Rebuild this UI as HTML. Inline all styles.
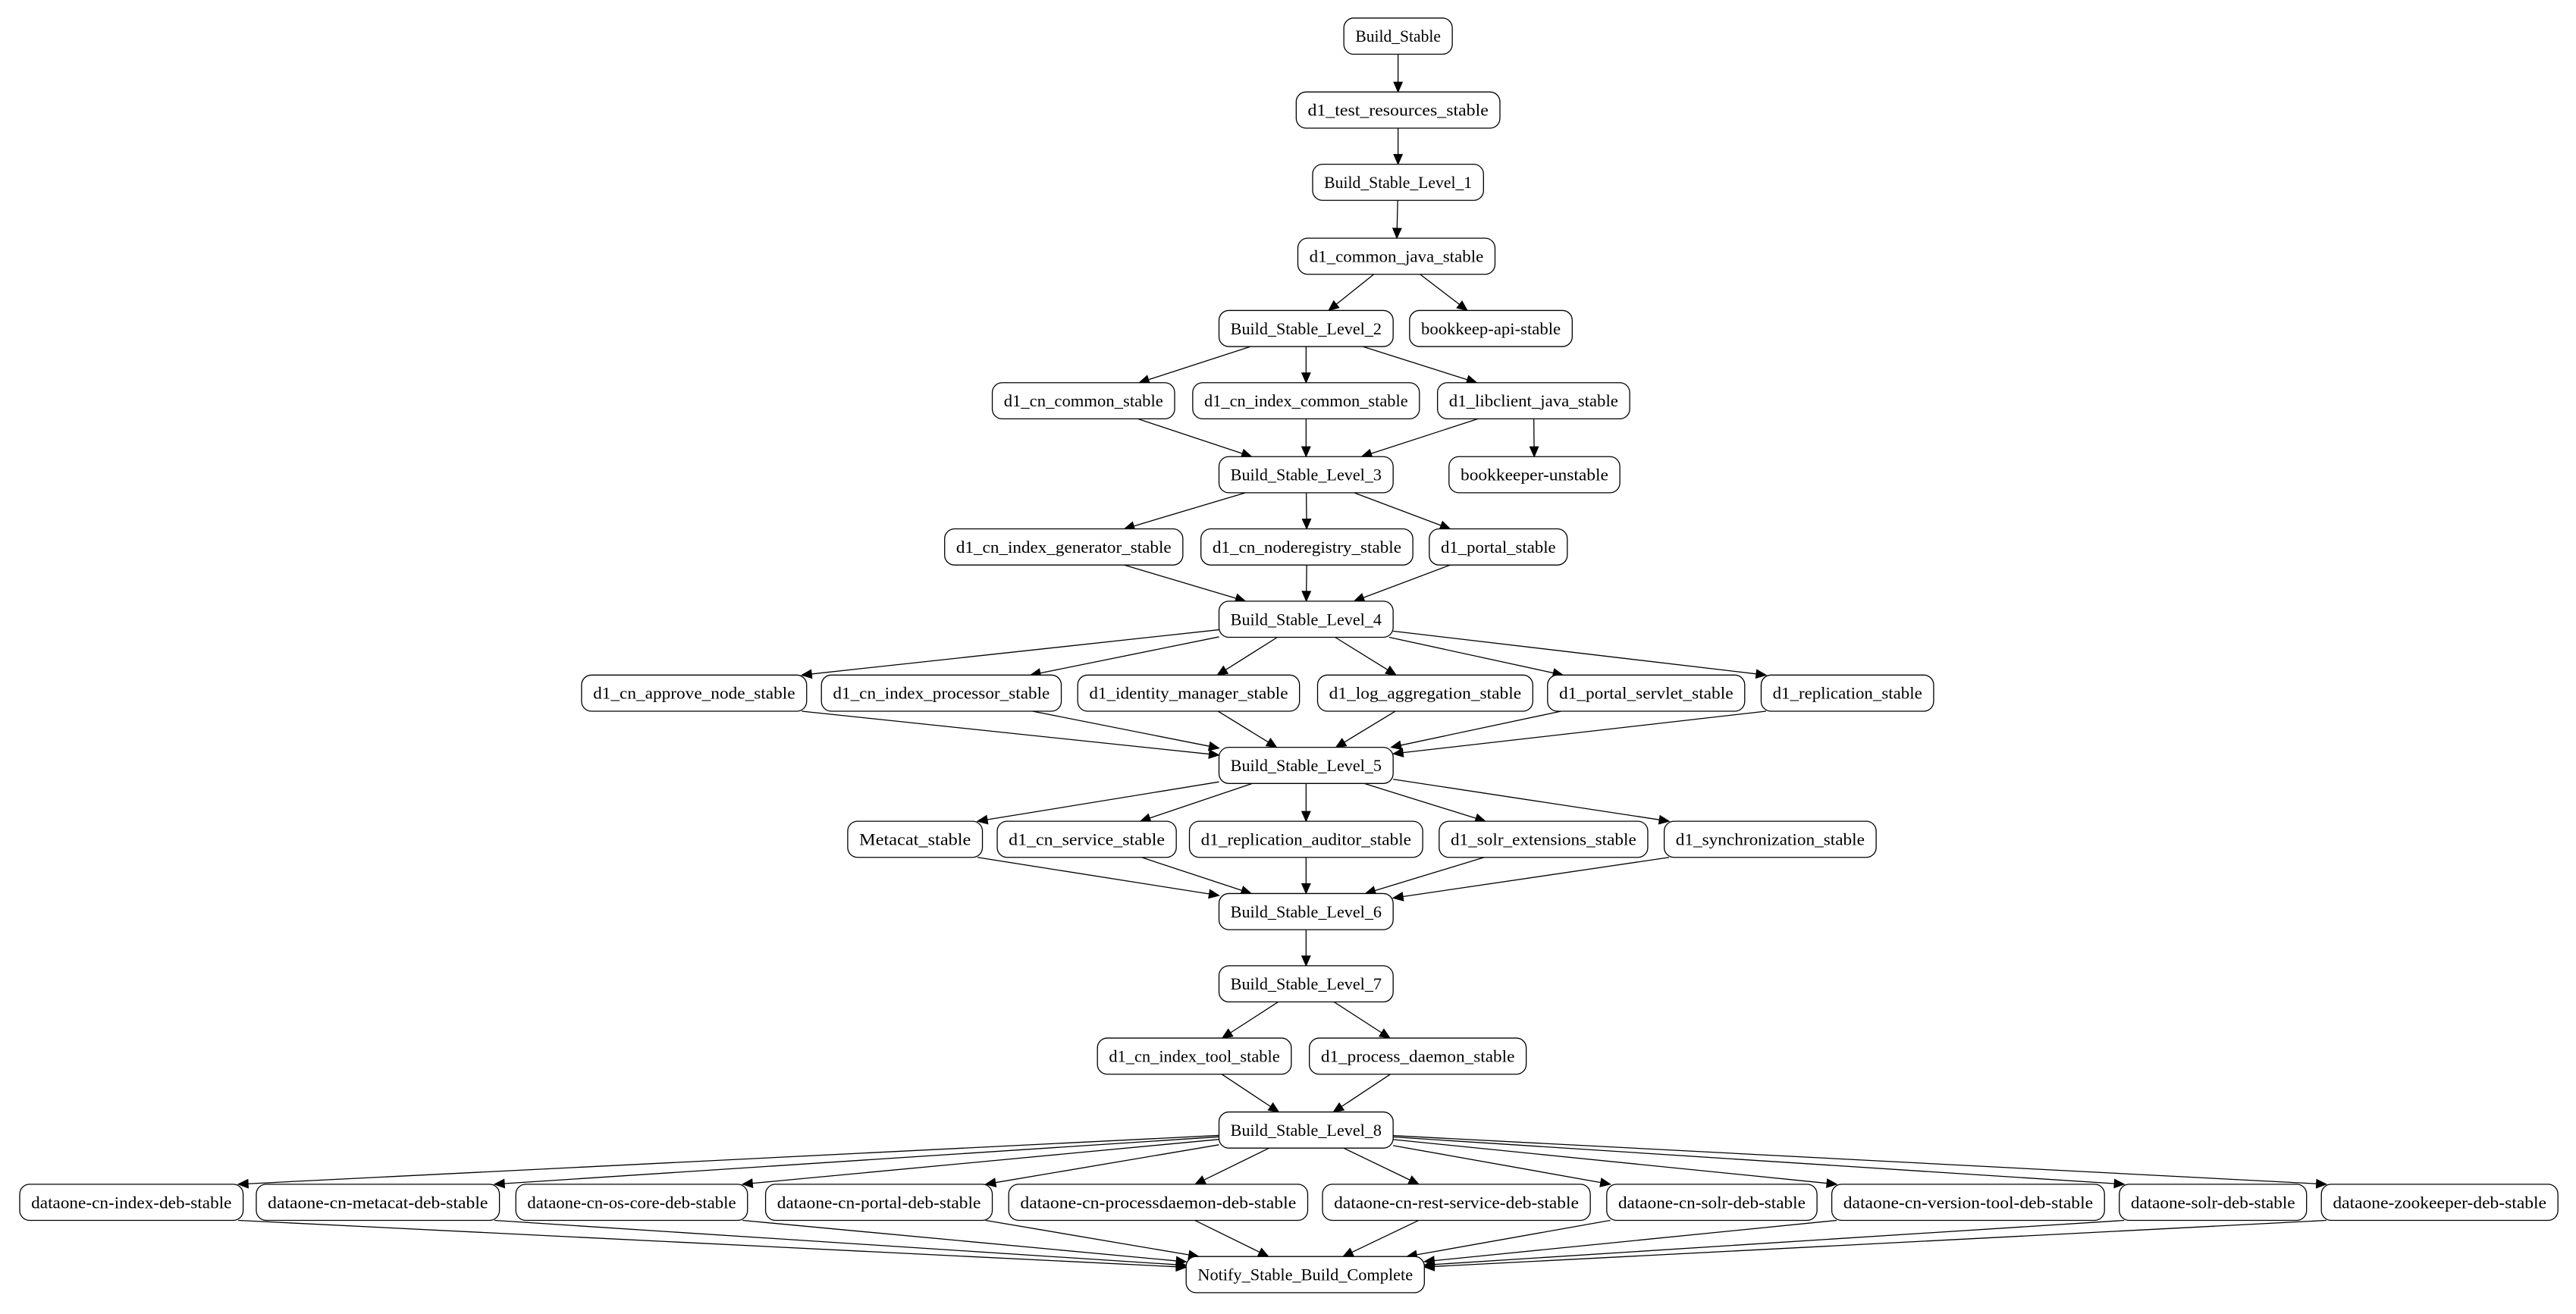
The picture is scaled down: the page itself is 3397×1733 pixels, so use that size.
<!DOCTYPE html>
<html><head><meta charset="utf-8"><style>
html,body{margin:0;padding:0;background:#fff;}
svg{display:block;}
text{font-family:"Liberation Serif","DejaVu Serif",serif;}
</style></head><body>
<svg id="g" width="3397" height="1733" viewBox="0 0 1568 800" preserveAspectRatio="none" xmlns="http://www.w3.org/2000/svg"></svg>
<script>
var N={};
function n(id,x1,x2,y){N[id]={x1:x1,x2:x2,y:y,cx:(x1+x2)/2};}
n('Build_Stable',818,884,22);
n('d1_test_resources_stable',789,913,67);
n('Build_Stable_Level_1',799,903,111);
n('d1_common_java_stable',790,910,156);
n('Build_Stable_Level_2',742,848,200);n('bookkeep-api-stable',858,957,200);
n('d1_cn_common_stable',604,715,244);n('d1_cn_index_common_stable',726,864,244);n('d1_libclient_java_stable',875,992,244);
n('Build_Stable_Level_3',742,848,289);n('bookkeeper-unstable',882,986,289);
n('d1_cn_index_generator_stable',575,720,333);n('d1_cn_noderegistry_stable',731,860,333);n('d1_portal_stable',870,954,333);
n('Build_Stable_Level_4',742,848,377);
n('d1_cn_approve_node_stable',354,491,422);n('d1_cn_index_processor_stable',500,646,422);n('d1_identity_manager_stable',656,791,422);n('d1_log_aggregation_stable',802,933,422);n('d1_portal_servlet_stable',942,1062,422);n('d1_replication_stable',1072,1177,422);
n('Build_Stable_Level_5',742,848,466);
n('Metacat_stable',516,598,511);n('d1_cn_service_stable',607,716,511);n('d1_replication_auditor_stable',724,866,511);n('d1_solr_extensions_stable',876,1003,511);n('d1_synchronization_stable',1013,1142,511);
n('Build_Stable_Level_6',742,848,555);
n('Build_Stable_Level_7',742,848,599);
n('d1_cn_index_tool_stable',668,786,643);n('d1_process_daemon_stable',797,929,643);
n('Build_Stable_Level_8',742,848,688);
var debs=[['dataone-cn-index-deb-stable',12,148],['dataone-cn-metacat-deb-stable',156,304],['dataone-cn-os-core-deb-stable',314,455],['dataone-cn-portal-deb-stable',466,604],['dataone-cn-processdaemon-deb-stable',614,796],['dataone-cn-rest-service-deb-stable',805,968],['dataone-cn-solr-deb-stable',978,1106],['dataone-cn-version-tool-deb-stable',1115,1281],['dataone-solr-deb-stable',1290,1404],['dataone-zookeeper-deb-stable',1413,1557]];
debs.forEach(function(d){n(d[0],d[1],d[2],732);});
n('Notify_Stable_Build_Complete',722,867,776);
var E=[];
function e(a,b){E.push([a,b]);}
e('Build_Stable','d1_test_resources_stable');e('d1_test_resources_stable','Build_Stable_Level_1');
e('Build_Stable_Level_1','d1_common_java_stable');e('d1_common_java_stable','Build_Stable_Level_2');e('d1_common_java_stable','bookkeep-api-stable');
['d1_cn_common_stable','d1_cn_index_common_stable','d1_libclient_java_stable'].forEach(function(k){e('Build_Stable_Level_2',k);e(k,'Build_Stable_Level_3');});
e('d1_libclient_java_stable','bookkeeper-unstable');
['d1_cn_index_generator_stable','d1_cn_noderegistry_stable','d1_portal_stable'].forEach(function(k){e('Build_Stable_Level_3',k);e(k,'Build_Stable_Level_4');});
['d1_cn_approve_node_stable','d1_cn_index_processor_stable','d1_identity_manager_stable','d1_log_aggregation_stable','d1_portal_servlet_stable','d1_replication_stable'].forEach(function(k){e('Build_Stable_Level_4',k);e(k,'Build_Stable_Level_5');});
['Metacat_stable','d1_cn_service_stable','d1_replication_auditor_stable','d1_solr_extensions_stable','d1_synchronization_stable'].forEach(function(k){e('Build_Stable_Level_5',k);e(k,'Build_Stable_Level_6');});
e('Build_Stable_Level_6','Build_Stable_Level_7');
['d1_cn_index_tool_stable','d1_process_daemon_stable'].forEach(function(k){e('Build_Stable_Level_7',k);e(k,'Build_Stable_Level_8');});
debs.forEach(function(d){e('Build_Stable_Level_8',d[0]);e(d[0],'Notify_Stable_Build_Complete');});
var H=11;
function hub(k){return k.indexOf('Build_Stable_Level')===0||k.indexOf('Notify')===0;}
function clip(k,px,py){
  var nd=N[k],sx=nd.cx,sy=nd.y;
  var dx=px-sx,dy=py-sy,hw=(nd.x2-nd.x1)/2;
  var tx=dx!==0?hw/Math.abs(dx):1e9, ty=dy!==0?H/Math.abs(dy):1e9;
  if(ty<=tx) return [sx+dx*ty,sy+dy*ty];
  if(hub(k)) return [sx+dx*tx,sy+dy*tx];
  // snap to top/bottom corner
  var x=dx>0?nd.x2-3:nd.x1+3;
  return [x,sy+(dy>0?H:-H)];
}
var s='';
E.forEach(function(p){
  var a=N[p[0]],b=N[p[1]];
  var p1=clip(p[0],b.cx,b.y),p2=clip(p[1],a.cx,a.y);
  var dx=p2[0]-p1[0],dy=p2[1]-p1[1],L=Math.sqrt(dx*dx+dy*dy),ux=dx/L,uy=dy/L;
  var al=6,aw=2.6;
  var bx=p2[0]-ux*al,by=p2[1]-uy*al;
  s+='<line x1="'+p1[0]+'" y1="'+p1[1]+'" x2="'+bx+'" y2="'+by+'" stroke="#000" stroke-width="0.6"/>';
  s+='<polygon points="'+p2[0]+','+p2[1]+' '+(bx-uy*aw)+','+(by+ux*aw)+' '+(bx+uy*aw)+','+(by-ux*aw)+'" fill="#000" stroke="#000" stroke-width="0.5"/>';
});
for(var k in N){var d=N[k];
  s+='<rect x="'+d.x1+'" y="'+(d.y-H)+'" width="'+(d.x2-d.x1)+'" height="'+(2*H)+'" rx="6" ry="6" fill="#fff" stroke="#000" stroke-width="0.6"/>';
  s+='<text x="'+d.cx+'" y="'+(d.y+3.5)+'" font-size="10" text-anchor="middle" textLength="'+(d.x2-d.x1-14)+'" lengthAdjust="spacingAndGlyphs">'+k+'</text>';
}
document.getElementById('g').innerHTML=s;
</script>
</body></html>
